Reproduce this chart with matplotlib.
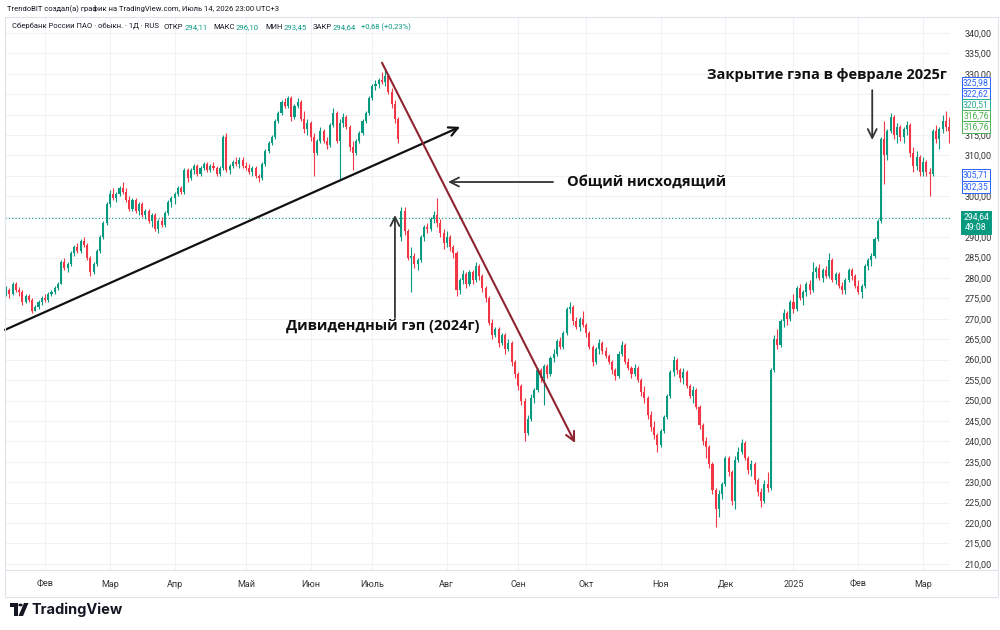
import numpy as np
import pandas as pd
import matplotlib
matplotlib.use('Agg')
import matplotlib.pyplot as plt
from matplotlib.patches import Rectangle, Polygon, Circle
from matplotlib.lines import Line2D

# daily candles, SBER, 16 Jan 2024 .. 13 Mar 2025
opens = [
    276.0, 277.0, 276.0, 278.5, 277.0, 276.5, 274.0, 275.5, 274.5, 272.0, 273.0, 274.0,
    275.0, 274.5, 276.0, 276.5, 277.5, 278.5, 284.0, 282.5, 283.5, 286.0, 287.5, 286.5, 289.0, 288.0, 285.0, 281.5, 283.5, 286.5, 290.0, 293.5,
    298.0, 300.5, 299.5, 300.5, 302.0, 301.0, 299.0, 297.0, 299.0, 296.5, 298.0, 295.5, 296.5, 294.0, 295.5, 292.0, 294.0, 293.0, 296.0, 298.5,
    299.5, 300.5, 302.0, 301.0, 306.5, 304.5, 306.5, 307.5, 305.5, 307.0, 308.0, 306.5, 307.5, 307.0, 305.5, 307.0, 314.5, 306.5, 307.5, 308.5, 308.0, 309.0,
    307.5, 307.0, 306.0, 307.0, 305.0, 304.5, 308.0, 311.0, 313.0, 314.5, 318.5, 320.5, 323.0, 322.0, 324.0, 319.5, 322.0, 323.0, 319.0, 316.5,
    318.0, 314.5, 310.5, 313.5, 316.0, 313.5, 312.5, 317.5, 320.5, 313.5, 318.0, 319.5, 317.0, 312.0, 310.5, 313.5, 315.5, 318.5, 320.5,
    324.0, 327.0, 327.5, 328.5, 328.0, 329.5, 325.5, 322.5, 319.0, 290.0, 296.5, 291.5, 285.0, 285.5, 283.5, 284.5, 290.0, 292.5, 292.0, 294.5, 295.5, 293.5, 291.0,
    288.5, 290.0, 287.5, 286.0, 277.0, 279.5, 281.0, 278.5, 281.5, 279.5, 283.0, 280.5, 277.5, 275.0, 269.0, 266.0, 267.5, 264.0, 266.0, 262.5, 264.0, 259.5,
    256.5, 253.5, 250.0, 242.0, 245.5, 250.5, 252.5, 257.5, 255.5, 258.5, 256.5, 260.5, 261.5, 264.5, 263.0, 266.5, 272.5, 273.0, 269.5, 268.0, 270.0,
    268.5, 266.5, 263.0, 259.5, 262.5, 264.0, 262.0, 261.0, 259.5, 257.5, 256.0, 261.5, 263.5, 259.5, 258.0, 256.5, 258.0, 255.0, 252.0, 250.5, 246.5, 243.5, 241.5,
    239.0, 242.5, 246.0, 251.0, 257.0, 260.0, 257.5, 255.5, 257.0, 253.5, 251.0, 252.5, 248.5, 244.0, 240.0, 238.5, 234.5, 228.0, 223.5, 227.0,
    229.5, 236.0, 232.5, 225.5, 235.5, 237.5, 239.5, 236.0, 233.0, 234.5, 230.5, 227.5, 225.5, 229.5, 228.5, 257.5, 265.0, 263.5, 269.5, 271.5, 270.0,
    274.0, 272.5, 277.5, 275.0, 276.5, 278.5, 277.0, 281.5, 282.5, 280.0, 282.0, 280.5, 284.5, 279.5, 281.0, 278.0, 277.0, 279.5, 282.0, 280.5,
    278.0, 276.5, 278.0, 283.0, 284.5, 285.5, 289.5, 294.0, 314.0, 310.0, 316.0, 319.5, 315.0, 317.0, 314.5, 316.5, 317.5, 310.5, 307.5, 309.5,
    306.0, 308.5, 306.0, 305.5, 316.0, 314.0, 316.5, 318.5, 317.0,
]
highs = [
    278.0, 277.5, 279.0, 279.0, 277.8, 277.0, 276.0, 276.0, 275.0, 273.5, 274.5, 275.5,
    276.0, 276.5, 277.0, 278.0, 279.0, 284.5, 285.0, 284.0, 286.5, 288.0, 288.5, 289.5, 290.0, 288.5, 285.5, 284.0, 287.0, 290.5, 294.0, 298.5,
    301.5, 302.0, 301.0, 302.5, 303.5, 302.0, 300.0, 299.5, 299.5, 298.5, 298.5, 297.0, 297.0, 296.0, 296.0, 294.5, 295.0, 296.5, 299.0, 300.0,
    301.0, 302.5, 302.5, 307.0, 307.0, 307.0, 308.0, 308.0, 307.5, 308.5, 308.5, 308.0, 308.5, 307.5, 307.5, 315.0, 315.5, 308.0, 309.0, 309.5, 309.5, 309.5,
    308.5, 308.0, 307.5, 307.5, 305.5, 308.5, 311.5, 313.5, 315.0, 319.0, 321.0, 323.5, 324.0, 324.5, 324.5, 322.5, 324.0, 323.5, 321.0, 319.0,
    318.5, 315.5, 314.0, 317.0, 316.5, 314.5, 318.0, 321.5, 321.0, 319.0, 320.5, 320.0, 317.5, 313.5, 314.0, 316.0, 319.0, 321.0, 324.5,
    327.5, 328.5, 329.0, 330.5, 331.0, 330.0, 326.5, 323.5, 319.5, 297.5, 297.5, 292.0, 287.5, 286.0, 285.0, 290.5, 293.0, 293.5, 295.0, 296.5, 299.5, 294.5, 292.0,
    291.5, 290.5, 288.0, 286.5, 280.0, 282.0, 281.5, 282.0, 282.0, 284.0, 283.5, 281.0, 278.0, 275.5, 270.0, 268.0, 268.0, 266.5, 266.5, 265.0, 264.5, 260.0,
    257.0, 254.0, 250.5, 246.5, 251.5, 253.0, 258.0, 258.0, 259.0, 259.0, 261.0, 262.5, 265.0, 265.5, 267.0, 273.0, 274.0, 273.5, 270.5, 270.5, 272.0,
    269.0, 267.0, 263.5, 263.0, 265.0, 264.5, 263.0, 261.5, 260.0, 258.0, 262.0, 264.5, 264.0, 260.5, 258.5, 259.0, 258.5, 255.5, 253.5, 251.0, 247.5, 245.0, 242.0,
    243.0, 246.5, 251.5, 257.5, 261.0, 260.5, 258.0, 258.0, 257.5, 254.0, 253.5, 253.0, 249.0, 244.5, 241.0, 239.0, 235.0, 228.5, 228.0, 230.0,
    236.5, 236.5, 233.0, 236.5, 238.5, 240.5, 240.0, 236.5, 235.5, 235.0, 231.0, 228.5, 230.5, 232.5, 258.0, 266.0, 267.5, 270.0, 272.5, 272.0, 274.5,
    276.0, 278.0, 278.5, 277.0, 279.0, 279.5, 284.0, 283.0, 283.5, 282.5, 283.0, 286.0, 285.0, 281.5, 281.5, 279.0, 280.0, 282.5, 282.5, 281.0,
    279.5, 278.5, 283.5, 285.0, 286.0, 290.0, 294.5, 314.5, 318.5, 316.5, 320.5, 320.0, 318.0, 317.5, 317.0, 318.5, 318.0, 312.0, 311.0, 310.0,
    309.5, 309.0, 307.0, 316.5, 317.5, 317.0, 320.0, 321.0, 319.5,
]
lows = [
    275.5, 275.0, 275.8, 276.5, 275.5, 273.5, 273.8, 274.0, 271.5, 271.8, 272.5, 273.5,
    274.0, 274.0, 275.5, 276.0, 277.0, 278.5, 282.0, 281.5, 283.0, 285.5, 286.0, 286.0, 287.5, 284.5, 280.5, 281.0, 283.0, 286.0, 289.5, 293.0,
    297.5, 299.0, 298.5, 300.0, 300.5, 298.5, 296.5, 296.5, 296.0, 295.5, 295.0, 294.5, 293.5, 292.5, 291.5, 291.0, 292.5, 292.5, 295.5, 297.5,
    298.0, 300.0, 300.5, 300.5, 303.5, 304.0, 305.5, 305.0, 305.0, 306.5, 306.0, 306.0, 306.5, 305.0, 305.0, 306.5, 306.0, 305.5, 307.0, 307.5, 307.0, 307.0,
    306.5, 305.5, 305.0, 304.5, 303.5, 304.0, 307.5, 310.5, 312.5, 314.0, 318.0, 320.0, 321.5, 321.5, 318.5, 319.0, 321.5, 318.5, 315.5, 315.0,
    313.5, 305.0, 310.0, 313.0, 313.0, 311.5, 312.0, 317.0, 313.0, 304.0, 317.0, 316.5, 311.0, 306.5, 310.0, 313.0, 315.0, 318.0, 320.0,
    323.5, 326.0, 326.5, 327.5, 327.0, 325.0, 321.5, 318.0, 313.0, 289.0, 290.5, 284.5, 276.5, 282.5, 282.0, 284.0, 289.0, 291.0, 291.5, 293.5, 292.5, 290.0, 287.0,
    287.5, 286.5, 285.0, 275.5, 276.0, 278.5, 277.5, 278.0, 278.5, 279.0, 279.5, 276.5, 274.0, 268.5, 265.0, 265.5, 263.0, 263.5, 261.5, 262.0, 258.5, 255.5,
    252.5, 249.0, 240.0, 241.5, 245.0, 249.5, 252.0, 254.5, 249.0, 255.5, 256.0, 259.5, 261.0, 262.5, 262.5, 266.0, 271.5, 268.5, 267.5, 267.0, 268.0,
    265.5, 262.5, 258.5, 259.0, 261.5, 261.5, 260.5, 259.0, 256.5, 255.0, 255.5, 261.0, 259.0, 257.5, 255.5, 256.0, 254.5, 251.0, 249.5, 245.5, 242.5, 240.5, 237.5,
    238.5, 242.0, 245.5, 250.5, 256.0, 256.5, 254.5, 254.0, 253.0, 250.5, 249.5, 248.0, 243.0, 239.0, 236.0, 233.5, 227.0, 219.0, 221.5, 226.0,
    229.0, 231.5, 224.5, 223.5, 235.0, 237.0, 235.5, 232.0, 231.5, 229.5, 226.5, 224.0, 225.0, 227.5, 228.0, 257.0, 262.5, 263.0, 268.0, 268.5, 269.5,
    271.5, 272.0, 274.5, 273.5, 275.5, 276.0, 276.5, 280.0, 279.5, 279.0, 280.0, 280.0, 279.0, 278.5, 277.5, 276.0, 276.0, 279.0, 279.5, 277.5,
    276.0, 275.0, 277.5, 282.0, 283.0, 285.0, 289.0, 293.5, 303.0, 309.0, 315.5, 314.0, 313.0, 313.5, 313.0, 315.0, 309.5, 306.0, 306.5, 305.0,
    305.0, 305.0, 300.0, 305.0, 313.0, 311.5, 315.5, 316.0, 313.0,
]
closes = [
    277.0, 276.0, 278.5, 277.0, 276.5, 274.0, 275.5, 274.5, 272.0, 273.0, 274.0, 275.0,
    274.5, 276.0, 276.5, 277.5, 278.5, 284.0, 282.5, 283.5, 286.0, 287.5, 286.5, 289.0, 288.0, 285.0, 281.5, 283.5, 286.5, 290.0, 293.5, 298.0,
    300.5, 299.5, 300.5, 302.0, 301.0, 299.0, 297.0, 299.0, 296.5, 298.0, 295.5, 296.5, 294.0, 295.5, 292.0, 294.0, 293.0, 296.0, 298.5, 299.5,
    300.5, 302.0, 301.0, 306.5, 304.5, 306.5, 307.5, 305.5, 307.0, 308.0, 306.5, 307.5, 307.0, 305.5, 307.0, 314.5, 306.5, 307.5, 308.5, 308.0, 309.0, 307.5,
    307.0, 306.0, 307.0, 305.0, 304.5, 308.0, 311.0, 313.0, 314.5, 318.5, 320.5, 323.0, 322.0, 324.0, 319.5, 322.0, 323.0, 319.0, 316.5, 318.0,
    314.5, 310.5, 313.5, 316.0, 313.5, 312.5, 317.5, 320.5, 313.5, 318.0, 319.5, 317.0, 312.0, 310.5, 313.5, 315.5, 318.5, 320.5, 324.0,
    327.0, 327.5, 328.5, 328.0, 329.5, 325.5, 322.5, 319.0, 314.0, 296.5, 291.5, 285.0, 285.5, 283.5, 284.5, 290.0, 292.5, 292.0, 294.5, 295.5, 293.5, 291.0, 288.5,
    290.0, 287.5, 286.0, 277.0, 279.5, 281.0, 278.5, 281.5, 279.5, 283.0, 280.5, 277.5, 275.0, 269.0, 266.0, 267.5, 264.0, 266.0, 262.5, 264.0, 259.5, 256.5,
    253.5, 250.0, 242.0, 245.5, 250.5, 252.5, 257.5, 255.5, 258.5, 256.5, 260.5, 261.5, 264.5, 263.0, 266.5, 272.5, 273.0, 269.5, 268.0, 270.0, 268.5,
    266.5, 263.0, 259.5, 262.5, 264.0, 262.0, 261.0, 259.5, 257.5, 256.0, 261.5, 263.5, 259.5, 258.0, 256.5, 258.0, 255.0, 252.0, 250.5, 246.5, 243.5, 241.5, 239.0,
    242.5, 246.0, 251.0, 257.0, 260.0, 257.5, 255.5, 257.0, 253.5, 251.0, 252.5, 248.5, 244.0, 240.0, 238.5, 234.5, 228.0, 223.5, 227.0, 229.5,
    236.0, 232.5, 225.5, 235.5, 237.5, 239.5, 236.0, 233.0, 234.5, 230.5, 227.5, 225.5, 229.5, 228.5, 257.5, 265.0, 263.5, 269.5, 271.5, 270.0, 274.0,
    272.5, 277.5, 275.0, 276.5, 278.5, 277.0, 281.5, 282.5, 280.0, 282.0, 280.5, 284.5, 279.5, 281.0, 278.0, 277.0, 279.5, 282.0, 280.5, 278.0,
    276.5, 278.0, 283.0, 284.5, 285.5, 289.5, 294.0, 314.0, 310.0, 316.0, 319.5, 315.0, 317.0, 314.5, 316.5, 317.5, 310.5, 307.5, 309.5, 306.0,
    308.5, 306.0, 305.5, 316.0, 314.0, 316.5, 318.5, 317.0, 316.0,
]

# exchange holidays (no candles)
holidays = ['2024-02-23', '2024-03-08', '2024-05-01', '2024-05-09', '2024-05-10', '2024-06-12',
            '2024-11-04', '2024-12-31', '2025-01-01', '2025-01-02', '2025-01-07']
month_names = {2: 'Фев', 3: 'Мар', 4: 'Апр', 5: 'Май', 6: 'Июн', 7: 'Июль', 8: 'Авг',
               9: 'Сен', 10: 'Окт', 11: 'Ноя', 12: 'Дек'}
price_ticks = list(range(210, 345, 5))
hidden_ticks = [325, 320, 305, 295]   # covered by the price tags
level_tags = ['325,98', '322,62', '320,51', '316,76', '316,76', '305,71', '302,35']
last_price = 294.64

UP = '#089981'
DOWN = '#f23645'
GRID = '#f0f2f6'

plt.rcParams['font.family'] = ['Roboto', 'DejaVu Sans']

o = np.array(opens)
h = np.array(highs)
l = np.array(lows)
c = np.array(closes)
n = len(c)
x = np.arange(n)
dates = pd.bdate_range('2024-01-16', periods=n, freq='C', holidays=holidays)

fig = plt.figure(figsize=(10, 6.3), dpi=100)
W, H = 1000, 630


def fx(px):
    return px / W


def fy(py):
    return 1 - py / H


ax = fig.add_axes([fx(5), fy(570), fx(945), 553 / H])
ax.set_xlim(-0.34, 291.3)
ax.set_ylim(208.5, 343.9)

# candles
up = c >= o
col = np.where(up, UP, DOWN)
ax.vlines(x, l, h, colors=col, lw=0.8, zorder=3)
body = np.maximum(np.abs(c - o), 0.25)
ax.bar(x, body, bottom=np.minimum(o, c), width=0.64, color=col, lw=0, zorder=3)

# grid + axes
month_start = [i for i in range(1, n) if dates[i].month != dates[i - 1].month]
month_lbl = [str(dates[i].year) if dates[i].month == 1 else month_names[dates[i].month]
             for i in month_start]
ax.set_xticks(month_start)
ax.set_xticklabels(month_lbl)
ax.set_yticks(price_ticks)
ax.set_yticklabels(['' if v in hidden_ticks else f'{v},00' for v in price_ticks])
ax.yaxis.tick_right()
ax.tick_params(axis='y', length=0, pad=10.5, labelsize=6.5, labelcolor='#333333')
ax.tick_params(axis='x', length=0, pad=7, labelsize=6.5, labelcolor='#333333')
ax.grid(True, color=GRID, lw=0.8)
ax.set_axisbelow(True)
for s in ax.spines.values():
    s.set_visible(False)

# last price line
ax.axhline(last_price, color=UP, lw=0.8, ls=(0, (1, 2)), zorder=2)

# drawings
arrow_kw = dict(arrowstyle='->', shrinkA=0, shrinkB=0, mutation_scale=16)
ax.annotate('', xy=(140.1, 317.0), xytext=(-0.34, 267.3),
            arrowprops=dict(color='#111111', lw=1.6, **arrow_kw), zorder=4)
ax.annotate('', xy=(175.6, 239.6), xytext=(116.0, 332.7),
            arrowprops=dict(color='#8e2430', lw=1.5, **arrow_kw), zorder=4)
ax.annotate('', xy=(136.4, 303.5), xytext=(168.8, 303.5),
            arrowprops=dict(color='#333333', lw=1.3, **arrow_kw), zorder=4)
ax.annotate('', xy=(120.0, 295.4), xytext=(120.0, 270.2),
            arrowprops=dict(color='#333333', lw=1.3, **arrow_kw), zorder=4)
ax.annotate('', xy=(267.3, 313.8), xytext=(267.3, 326.0),
            arrowprops=dict(color='#333333', lw=1.3, **arrow_kw), zorder=4)

note_kw = dict(fontsize=10.5, fontweight='bold', color='#111111',
               family=['Open Sans', 'DejaVu Sans'], zorder=5)
ax.text(173.2, 303.5, 'Общий нисходящий', ha='left', va='center', **note_kw)
ax.text(116.3, 268.3, 'Дивидендный гэп (2024г)', ha='center', va='center', **note_kw)
ax.text(253.4, 329.7, 'Закрытие гэпа в феврале 2025г', ha='center', va='center', **note_kw)

# price tags on the scale (stacked like TradingView does)
tag_pos = [327.8, 325.1, 322.4, 319.7, 317.0, 305.2, 302.3]
tag_col = ['#2962ff', '#2962ff', '#22ab94', '#4caf50', '#4caf50', '#2962ff', '#2962ff']
xt = (976 - 5) / 945
for txt, yv, cc in zip(level_tags, tag_pos, tag_col):
    ax.text(xt, yv, txt, transform=ax.get_yaxis_transform(), ha='center', va='center',
            fontsize=6.2, color=cc, clip_on=False, zorder=6,
            bbox=dict(boxstyle='square,pad=0.15', fc='white', ec=cc, lw=0.7))
ax.text(xt, 293.6, f'{last_price:.2f}'.replace('.', ',') + '\n49:08',
        transform=ax.get_yaxis_transform(), ha='center', va='center', fontsize=6.2,
        color='white', linespacing=1.15, clip_on=False, zorder=6,
        bbox=dict(boxstyle='square,pad=0.22', fc=UP, ec=UP, lw=0.7))

# frame
fig.patches.append(Rectangle((fx(5), fy(597)), fx(993), 580 / H, transform=fig.transFigure,
                             fill=False, ec='#e0e3eb', lw=0.8))
fig.lines.append(Line2D([fx(5), fx(998)], [fy(570), fy(570)], transform=fig.transFigure,
                        color='#e0e3eb', lw=0.8))

# header texts
fig.text(fx(7), fy(8), 'TrendoBIT создал(а) график на TradingView.com, Июль 14, 2026 23:00 UTC+3',
         fontsize=5.5, color='#131722', va='center')

# symbol legend, pieces laid out one after another
legend_parts = [
    ('Сбербанк России ПАО · обыкн. · 1Д · RUS', '#131722', 5),
    ('ОТКР', '#131722', 1), ('294,11', UP, 6),
    ('МАКС', '#131722', 1), ('296,10', UP, 6),
    ('МИН', '#131722', 1), ('293,45', UP, 6),
    ('ЗАКР', '#131722', 1), ('294,64', UP, 5),
    ('+0,68 (+0,23%)', UP, 0),
]
renderer = fig.canvas.get_renderer()
cur = 12
for txt, cc, gap in legend_parts:
    t = fig.text(fx(cur), fy(27), txt, fontsize=5.5, color=cc, va='center')
    cur += t.get_window_extent(renderer).width + gap

# TradingView logo
fig.patches.append(Polygon([(fx(10), fy(603)), (fx(18), fy(603)), (fx(18), fy(616)),
                            (fx(14), fy(616)), (fx(14), fy(607)), (fx(10), fy(607))],
                           closed=True, transform=fig.transFigure, fc='#131722', ec='none'))
fig.patches.append(Circle((fx(20.5), fy(605)), 0.0022, transform=fig.transFigure,
                          fc='#131722', ec='none'))
fig.patches.append(Polygon([(fx(24), fy(603)), (fx(28.5), fy(603)), (fx(23), fy(616)),
                            (fx(18.5), fy(616))],
                           closed=True, transform=fig.transFigure, fc='#131722', ec='none'))
fig.text(fx(31), fy(610), 'TradingView', fontsize=10.5, fontweight='bold', color='#131722',
         va='center', family=['Inter', 'DejaVu Sans'])

fig.savefig('out.png', dpi=100)
